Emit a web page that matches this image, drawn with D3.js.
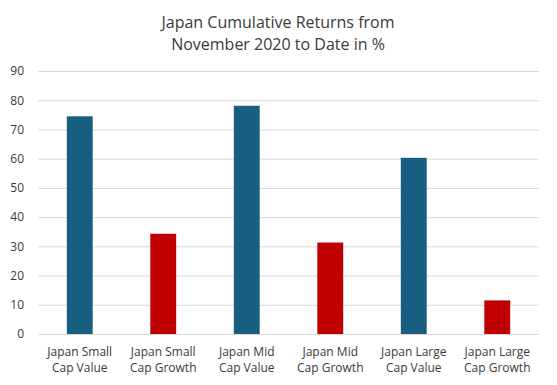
<!DOCTYPE html>
<html>
<head>
<meta charset="utf-8">
<script src="https://cdn.jsdelivr.net/npm/d3@7"></script>
<style>
  body { margin: 0; background: #fff; }
  text { font-family: "Open Sans", Lato, sans-serif; fill: #3a3a3a; }
</style>
</head>
<body>
<svg id="chart" width="557" height="385"></svg>
<script>
// chart data
let categories = [
    ['Japan Small', 'Cap Value'],
    ['Japan Small', 'Cap Growth'],
    ['Japan Mid', 'Cap Value'],
    ['Japan Mid', 'Cap Growth'],
    ['Japan Large', 'Cap Value'],
    ['Japan Large', 'Cap Growth']
]
let returns = [ 74.5, 34.3, 78.1, 31.3, 60.3, 11.5 ]
let barColors = [ '#175e80', '#c00000', '#175e80', '#c00000', '#175e80', '#c00000' ]
let yTicks = [ 0, 10, 20, 30, 40, 50, 60, 70, 80, 90 ]
let titleLines = [ 'Japan Cumulative Returns from', 'November 2020 to Date in %' ]

let svg = d3.select( 'svg#chart' )

let x = d3.scaleBand()
    .domain( d3.range( categories.length ) )
    .range( [ 38, 539 ] )
    .paddingInner( 0.69 )
    .paddingOuter( 0.345 )

let y = d3.scaleLinear()
    .domain( [ 0, 90 ] )
    .range( [ 334, 71 ] )

// title
svg.append( 'g' )
    .selectAll( 'text' )
    .data( titleLines )
    .enter()
    .append( 'text' )
    .attr( 'x', 278 )
    .attr( 'y', ( d, i ) => 28 + i * 21.5 )
    .attr( 'text-anchor', 'middle' )
    .style( 'font-size', '16px' )
    .text( d => d )

// gridlines + y labels
let yAxis = d3.axisLeft( y )
    .tickValues( yTicks )
    .tickSize( -( 539 - 38 ) )
    .tickPadding( 14 )

let gy = svg.append( 'g' )
    .attr( 'transform', 'translate(38,0)' )
    .call( yAxis )

gy.select( '.domain' ).remove()
gy.selectAll( '.tick line' ).attr( 'stroke', '#d9d9d9' ).attr( 'stroke-width', 1 )
gy.selectAll( '.tick text' )
    .style( 'font-size', '12px' )
    .style( 'font-family', '"Open Sans", Lato, sans-serif' )
    .attr( 'fill', '#3a3a3a' )

// bars
svg.append( 'g' )
    .selectAll( 'rect' )
    .data( returns )
    .enter()
    .append( 'rect' )
    .attr( 'x', ( d, i ) => x( i ) )
    .attr( 'y', d => y( d ) )
    .attr( 'width', x.bandwidth() )
    .attr( 'height', d => y( 0 ) - y( d ) )
    .attr( 'fill', ( d, i ) => barColors[ i ] )

// x labels
let xl = svg.append( 'g' )
    .selectAll( 'text' )
    .data( categories )
    .enter()
    .append( 'text' )
    .attr( 'text-anchor', 'middle' )
    .style( 'font-size', '12px' )

xl.selectAll( 'tspan' )
    .data( ( d, i ) => d.map( s => ( { s: s, i: i } ) ) )
    .enter()
    .append( 'tspan' )
    .attr( 'x', d => x( d.i ) + x.bandwidth() / 2 )
    .attr( 'y', ( d, j ) => 356 + j * 16 )
    .text( d => d.s )
</script>
</body>
</html>
